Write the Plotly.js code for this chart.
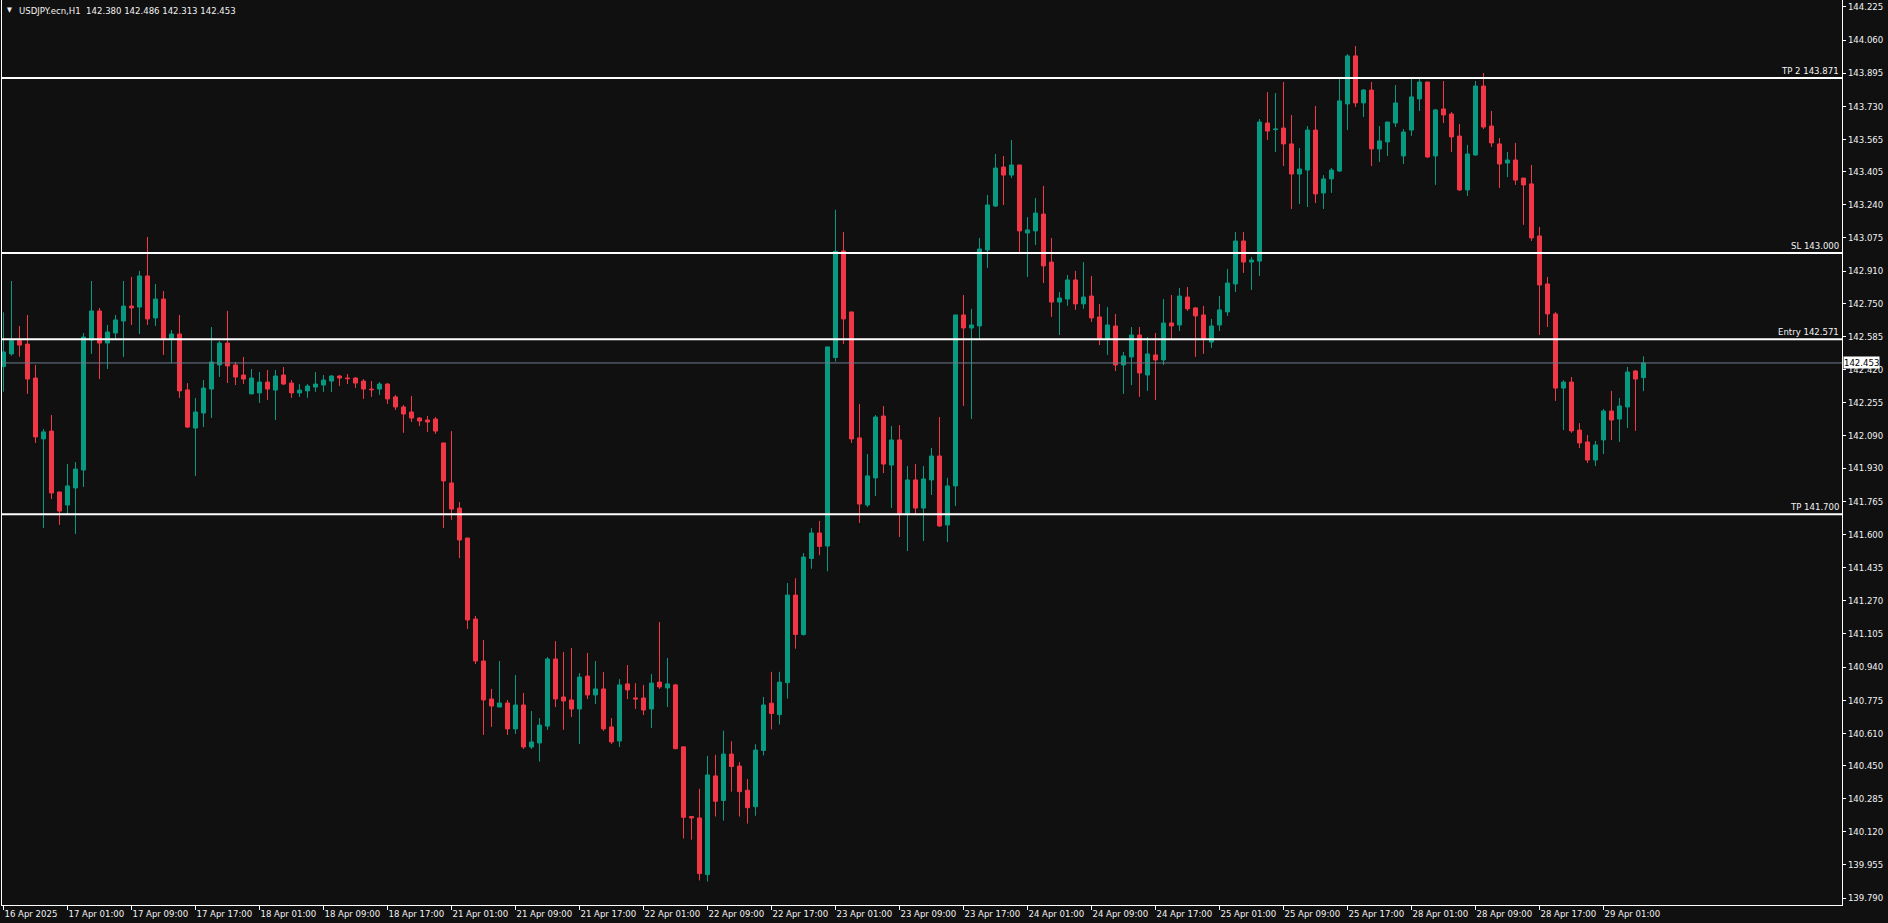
<!DOCTYPE html>
<html><head><meta charset="utf-8">
<script src="https://cdn.plot.ly/plotly-3.0.1.min.js"></script>
<style>html,body{margin:0;padding:0;background:#101010;overflow:hidden}#chart{width:1888px;height:923px}</style>
</head><body><div id="chart"></div>
<script>
// USDJPY.ecn H1 bars, 16 Apr 2025 17:00 -> 29 Apr 2025 06:00 (weekends removed)
const barOpen = [
142.435,142.498,142.564,142.547,142.378,142.075,142.114,141.811,141.746,141.831,
141.920,142.567,142.712,142.552,142.602,142.662,142.736,142.731,142.886,142.677,
142.771,142.572,142.597,142.319,142.129,142.204,142.323,142.443,142.552,142.443,
142.393,142.299,142.304,142.358,142.318,142.393,142.353,142.304,142.314,142.333,
142.343,142.363,142.388,142.378,142.378,142.363,142.323,142.323,142.348,142.284,
142.234,142.209,142.179,142.169,142.174,142.055,141.856,141.731,141.582,141.179,
140.970,140.781,140.741,140.761,140.632,140.751,140.542,140.562,140.646,140.980,
140.791,140.776,140.731,140.895,140.801,140.831,140.642,140.572,140.856,140.786,
140.786,140.731,140.865,140.836,140.851,140.543,140.196,140.189,139.907,140.398,
140.276,140.507,140.447,140.327,140.245,140.525,140.760,140.703,140.862,141.298,
141.102,141.480,141.607,141.542,142.480,143.010,142.707,142.080,141.746,141.881,
142.189,141.945,142.070,141.706,141.871,141.731,141.871,141.990,141.647,141.841,
142.692,142.627,142.637,143.015,143.234,143.428,143.388,143.438,143.100,143.110,
143.194,142.955,142.756,142.771,142.866,142.747,142.786,142.682,142.572,142.637,
142.443,142.483,142.592,142.393,142.493,142.468,142.652,142.642,142.781,142.727,
142.692,142.557,142.642,142.707,142.846,143.060,142.955,142.960,143.647,143.614,
143.622,143.543,143.393,143.413,143.612,143.299,143.369,143.408,143.742,143.981,
143.747,143.811,143.518,143.553,143.647,143.483,143.612,143.767,143.851,143.483,
143.717,143.692,143.582,143.314,143.488,143.831,143.632,143.543,143.448,143.463,
143.373,143.344,143.085,142.846,142.697,142.328,142.358,142.119,142.060,141.970,
142.070,142.214,142.174,142.234,142.413,142.380];
const barHigh = [
142.705,142.861,142.637,142.692,142.443,142.124,142.194,141.811,141.950,141.960,
142.602,142.861,142.727,142.642,142.692,142.861,142.881,142.911,143.080,142.846,
142.811,142.617,142.692,142.353,142.279,142.368,142.632,142.562,142.712,142.458,
142.483,142.423,142.408,142.418,142.418,142.433,142.368,142.348,142.348,142.408,
142.393,142.393,142.393,142.398,142.383,142.373,142.363,142.358,142.353,142.294,
142.244,142.289,142.184,142.189,142.184,142.055,142.114,141.761,141.582,141.194,
141.074,140.831,140.970,140.776,140.900,140.811,140.721,140.686,140.990,141.069,
141.015,141.035,140.910,141.010,140.970,140.915,140.686,140.880,140.950,140.860,
140.851,140.905,141.164,140.985,140.856,140.543,140.196,140.334,140.498,140.503,
140.623,140.571,140.467,140.383,140.556,140.791,140.916,140.916,141.358,141.382,
141.507,141.631,141.667,142.533,143.215,143.105,142.707,142.249,142.000,142.194,
142.239,142.139,142.144,141.940,141.950,141.940,142.030,142.184,141.881,142.692,
142.791,142.722,143.075,143.289,143.493,143.483,143.562,143.438,143.179,143.274,
143.334,143.075,142.806,142.891,142.911,142.955,142.886,142.747,142.731,142.697,
142.508,142.632,142.632,142.582,142.602,142.771,142.791,142.826,142.831,142.731,
142.737,142.672,142.786,142.921,143.105,143.105,142.980,143.667,143.801,143.796,
143.851,143.687,143.523,143.632,143.732,143.388,143.423,143.866,143.990,144.030,
143.816,143.851,143.632,143.652,143.836,143.617,143.866,143.866,143.851,143.717,
143.856,143.702,143.642,143.538,143.856,143.896,143.707,143.573,143.503,143.548,
143.373,143.438,143.130,142.881,142.707,142.368,142.383,142.154,142.095,142.065,
142.224,142.314,142.279,142.433,142.418,142.486];
const barLow = [
142.310,142.489,142.484,142.299,142.055,141.632,141.776,141.647,141.701,141.602,
141.836,142.498,142.373,142.423,142.572,142.483,142.642,142.597,142.642,142.637,
142.493,142.453,142.279,142.129,141.891,142.134,142.179,142.383,142.353,142.343,
142.348,142.298,142.254,142.269,142.169,142.343,142.279,142.284,142.279,142.309,
142.309,142.309,142.338,142.348,142.328,142.274,142.284,142.294,142.249,142.219,
142.105,142.159,142.139,142.110,142.100,141.632,141.672,141.482,141.129,140.955,
140.602,140.642,140.741,140.602,140.607,140.532,140.532,140.469,140.627,140.741,
140.627,140.691,140.557,140.781,140.756,140.622,140.557,140.542,140.781,140.731,
140.701,140.637,140.831,140.741,140.530,140.087,140.081,139.878,139.872,140.196,
140.176,140.320,140.196,140.161,140.200,140.500,140.629,140.654,140.783,141.031,
141.096,141.429,141.496,141.416,142.460,142.547,142.055,141.657,141.736,141.791,
141.905,141.731,141.587,141.517,141.701,141.567,141.796,141.637,141.562,141.741,
142.239,142.174,142.567,142.926,143.229,143.239,143.373,143.005,142.881,143.040,
142.851,142.682,142.592,142.737,142.717,142.722,142.657,142.542,142.493,142.413,
142.299,142.343,142.284,142.314,142.269,142.443,142.572,142.612,142.712,142.483,
142.498,142.528,142.612,142.687,142.806,142.901,142.816,142.886,143.563,143.503,
143.433,143.219,143.244,143.229,143.249,143.219,143.299,143.403,143.612,143.727,
143.677,143.433,143.453,143.483,143.627,143.443,143.583,143.707,143.473,143.339,
143.647,143.503,143.309,143.284,143.483,143.617,143.528,143.324,143.378,143.339,
143.140,143.060,142.592,142.632,142.264,142.119,142.105,142.030,141.955,141.940,
142.000,142.070,142.060,142.129,142.115,142.313];
const barClose = [
142.508,142.564,142.542,142.373,142.085,142.110,141.806,141.716,141.841,141.925,
142.582,142.712,142.552,142.607,142.667,142.736,142.727,142.886,142.672,142.771,
142.572,142.597,142.314,142.134,142.209,142.328,142.458,142.552,142.438,142.383,
142.373,142.378,142.358,142.323,142.388,142.348,142.304,142.318,142.338,142.348,
142.368,142.388,142.378,142.375,142.353,142.323,142.320,142.348,142.274,142.234,
142.199,142.179,142.164,142.159,142.114,141.866,141.726,141.572,141.174,140.970,
140.776,140.746,140.761,140.632,140.751,140.542,140.567,140.651,140.980,140.781,
140.771,140.731,140.890,140.801,140.831,140.632,140.567,140.851,140.826,140.781,
140.726,140.860,140.841,140.856,140.534,140.192,140.189,139.912,140.403,140.272,
140.507,140.445,140.320,140.240,140.527,140.751,140.709,140.865,141.298,141.102,
141.487,141.607,141.540,142.533,143.008,142.672,142.075,141.751,141.891,142.184,
141.950,142.070,141.706,141.871,141.731,141.876,141.990,141.642,141.841,142.692,
142.627,142.642,143.020,143.239,143.423,143.388,143.438,143.110,143.115,143.199,
142.936,142.756,142.776,142.866,142.747,142.781,142.677,142.572,142.642,142.443,
142.488,142.592,142.403,142.498,142.468,142.652,142.637,142.786,142.722,142.687,
142.572,142.637,142.717,142.851,143.060,142.955,142.965,143.652,143.607,143.617,
143.543,143.393,143.418,143.612,143.294,143.369,143.413,143.757,143.981,143.747,
143.811,143.518,143.558,143.652,143.747,143.602,143.777,143.851,143.478,143.712,
143.687,143.578,143.314,143.493,143.831,143.627,143.548,143.443,143.463,143.363,
143.339,143.075,142.841,142.697,142.328,142.358,142.115,142.055,141.970,142.045,
142.214,142.169,142.239,142.408,142.373,142.453];

const timeTickBars = [0,8,16,24,32,40,48,56,64,72,80,88,96,104,112,120,128,136,144,152,160,168,176,184,192,200];
const timeTickLabels = ['16 Apr 2025','17 Apr 01:00','17 Apr 09:00','17 Apr 17:00','18 Apr 01:00','18 Apr 09:00',
 '18 Apr 17:00','21 Apr 01:00','21 Apr 09:00','21 Apr 17:00','22 Apr 01:00','22 Apr 09:00','22 Apr 17:00',
 '23 Apr 01:00','23 Apr 09:00','23 Apr 17:00','24 Apr 01:00','24 Apr 09:00','24 Apr 17:00','25 Apr 01:00',
 '25 Apr 09:00','25 Apr 17:00','28 Apr 01:00','28 Apr 09:00','28 Apr 17:00','29 Apr 01:00'];
const priceTicks = [144.225,144.060,143.895,143.730,143.565,143.405,143.240,143.075,142.910,142.750,142.585,
 142.420,142.255,142.090,141.930,141.765,141.600,141.435,141.270,141.105,140.940,140.775,140.610,140.450,
 140.285,140.120,139.955,139.790];
const levelNames = ['TP 2','SL','Entry','TP'];
const levelPrices = [143.871,143.000,142.571,141.700];
const symbolLabel = 'USDJPY.ecn,H1';

const barIndex = barOpen.map((_, i) => i);
const last = barOpen.length - 1;
const lastPrice = barClose[last];

const FONT = "'DejaVu Sans Condensed', 'Liberation Sans', Arial, sans-serif";
const TXT = '#f2f2f2';
const BG = '#101010';

const trace = {
  type: 'candlestick', x: barIndex,
  open: barOpen, high: barHigh, low: barLow, close: barClose,
  increasing: {line: {color: '#089981', width: 1}, fillcolor: '#089981'},
  decreasing: {line: {color: '#f23645', width: 1}, fillcolor: '#f23645'},
  whiskerwidth: 0, hoverinfo: 'skip', showlegend: false
};

const shapes = levelPrices.map(p => ({
  type: 'line', xref: 'paper', x0: 0, x1: 1, yref: 'y', y0: p, y1: p,
  line: {color: '#ffffff', width: 2}, layer: 'above'
}));
shapes.push({type: 'line', xref: 'paper', x0: 0, x1: 1, yref: 'y', y0: lastPrice, y1: lastPrice,
  line: {color: '#6f7c8c', width: 1}, layer: 'above'});

const annotations = levelPrices.map((p, i) => ({
  xref: 'paper', x: 1, xanchor: 'right', xshift: -1, yref: 'y', y: p, yanchor: 'bottom', yshift: 0,
  text: levelNames[i] + ' ' + p.toFixed(3), showarrow: false,
  font: {family: FONT, size: 9.5, color: TXT}
}));
annotations.push({
  xref: 'paper', x: 1, xanchor: 'left', xshift: 1, yref: 'y', y: lastPrice, yanchor: 'middle',
  text: lastPrice.toFixed(3), showarrow: false, bgcolor: '#ffffff', borderpad: 0,
  font: {family: FONT, size: 9.5, color: '#000000'}
});
annotations.push({
  xref: 'paper', x: 0, xanchor: 'left', xshift: 3, yref: 'paper', y: 1, yanchor: 'top', yshift: -4,
  text: '▼', showarrow: false, font: {family: FONT, size: 7, color: TXT}
});
annotations.push({
  xref: 'paper', x: 0, xanchor: 'left', xshift: 15, yref: 'paper', y: 1, yanchor: 'top', yshift: -3,
  text: symbolLabel + '\u00a0\u00a0' + [barOpen[last], barHigh[last], barLow[last], barClose[last]].map(v => v.toFixed(3)).join(' '),
  showarrow: false, font: {family: FONT, size: 9.5, color: TXT}
});

const layout = {
  width: 1888, height: 923,
  margin: {l: 2, r: 46, t: 0, b: 18, pad: 0},
  paper_bgcolor: BG, plot_bgcolor: BG,
  boxgap: 0.5, boxgroupgap: 0,
  hovermode: false, dragmode: false, showlegend: false,
  xaxis: {
    type: 'linear', range: [-0.1875, 229.8125], fixedrange: true,
    rangeslider: {visible: false},
    showgrid: false, zeroline: false,
    showline: true, linecolor: '#ffffff', linewidth: 1,
    ticks: 'outside', ticklen: 4, tickcolor: '#ffffff', tickwidth: 1,
    tickvals: timeTickBars, ticktext: timeTickLabels,
    ticklabelposition: 'outside right', tickangle: 0, automargin: false,
    tickfont: {family: FONT, size: 9.5, color: TXT}
  },
  yaxis: {
    side: 'right', range: [139.7558, 144.2591], fixedrange: true, automargin: false,
    showgrid: false, zeroline: false,
    showline: true, mirror: true, linecolor: '#ffffff', linewidth: 1,
    ticks: 'outside', ticklen: 3, tickcolor: '#ffffff', tickwidth: 1,
    tickvals: priceTicks, ticktext: priceTicks.map(v => v.toFixed(3)),
    tickfont: {family: FONT, size: 9.5, color: TXT}
  },
  shapes: shapes,
  annotations: annotations
};

Plotly.newPlot('chart', [trace], layout, {displayModeBar: false, staticPlot: true});
</script>
</body></html>
